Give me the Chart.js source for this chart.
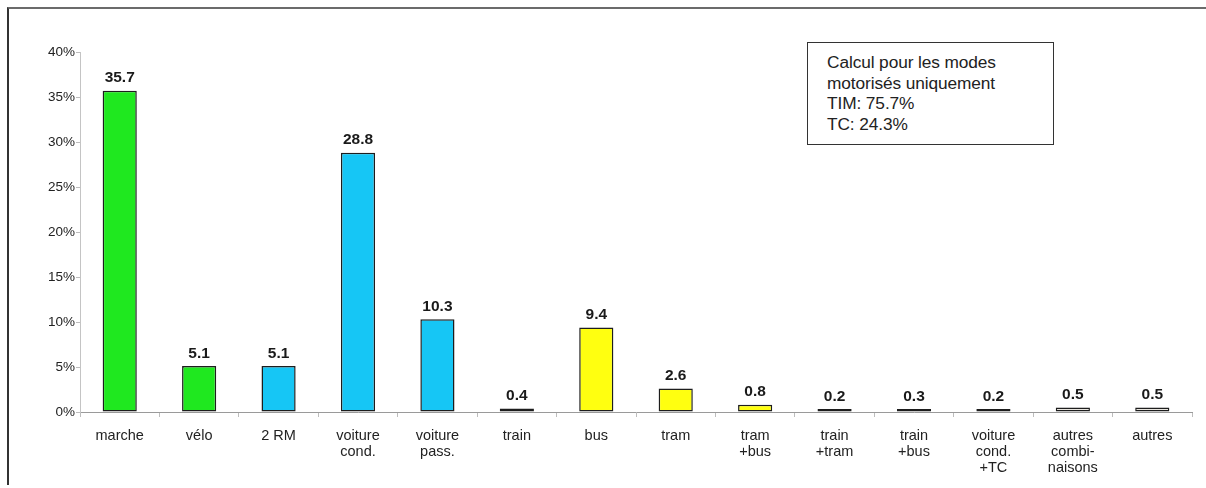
<!DOCTYPE html>
<html>
<head>
<meta charset="utf-8">
<script src="https://cdn.jsdelivr.net/npm/chart.js@4.4.1/dist/chart.umd.min.js"></script>
<style>
  html, body { margin: 0; padding: 0; background: #ffffff; }
  #wrap { position: relative; width: 1206px; height: 488px; overflow: hidden; }
  #c { position: absolute; left: 0; top: 0; }
  #frame { position: absolute; left: 7px; top: 7px; right: -10px; bottom: 3px;
           border-top: 2px solid #6b6b6b; border-left: 2px solid #333; pointer-events: none; }
  #note { position: absolute; left: 807px; top: 42px; width: 226px; height: 88px;
          border: 1.5px solid #333; padding: 9px 0 4px 19px; background: #fff;
          font-family: "Liberation Sans", Arial, sans-serif; font-size: 17.3px;
          line-height: 20.6px; color: #222; letter-spacing: -0.1px; }
</style>
</head>
<body>
<div id="wrap">
  <canvas id="c" width="1206" height="488"></canvas>
  <div id="frame"></div>
  <div id="note">Calcul pour les modes<br>motorisés uniquement<br>TIM: 75.7%<br>TC: 24.3%</div>
</div>
<script>
const categories = [
  ["marche"], ["vélo"], ["2 RM"], ["voiture", "cond."], ["voiture", "pass."],
  ["train"], ["bus"], ["tram"], ["tram", "+bus"], ["train", "+tram"],
  ["train", "+bus"], ["voiture", "cond.", "+TC"], ["autres", "combi-", "naisons"], ["autres"]
];
const shares = [35.7, 5.1, 5.1, 28.8, 10.3, 0.4, 9.4, 2.6, 0.8, 0.2, 0.3, 0.2, 0.5, 0.5];
const barColors = [
  "#1fe81f", "#1fe81f", "#16c6f5", "#16c6f5", "#16c6f5",
  "#c9c3a6", "#ffff10", "#ffff10", "#ffff10", "#4e5a2a",
  "#5a6a2e", "#333333", "#e9e6e0", "#e9e6e0"
];
const yTicks = [0, 5, 10, 15, 20, 25, 30, 35, 40];

const FONT = "'Liberation Sans', Arial, sans-serif";

const valueLabels = {
  id: "valueLabels",
  afterDatasetsDraw(chart) {
    const ctx = chart.ctx;
    const meta = chart.getDatasetMeta(0);
    ctx.save();
    ctx.font = "bold 15.5px " + FONT;
    ctx.fillStyle = "#1a1a1a";
    ctx.textAlign = "center";
    ctx.textBaseline = "bottom";
    meta.data.forEach((bar, i) => {
      ctx.fillText(shares[i].toFixed(1), bar.x, bar.y - 5);
    });
    ctx.restore();
  }
};

new Chart(document.getElementById("c"), {
  type: "bar",
  data: {
    labels: categories,
    datasets: [{
      data: shares,
      backgroundColor: barColors,
      borderColor: "#1d1d1d",
      borderWidth: 1.5,
      borderSkipped: false,
      minBarLength: 3,
      categoryPercentage: 1,
      barPercentage: 0.43
    }]
  },
  options: {
    responsive: false,
    animation: false,
    devicePixelRatio: 1,
    layout: { padding: { left: 0, right: 14, top: 52, bottom: 0 } },
    plugins: { legend: { display: false }, tooltip: { enabled: false } },
    scales: {
      x: {
        offset: true,
        grid: { display: true, drawOnChartArea: false, drawTicks: true, tickLength: 5,
                offset: true, color: "#bdbdbd" },
        border: { display: true, color: "#9a9a9a", width: 1 },
        ticks: { color: "#222", font: { family: FONT, size: 14.5, lineHeight: 1.1 }, padding: 11,
                 maxRotation: 0, autoSkip: false },
        afterFit(scale) { scale.height = 76; }
      },
      y: {
        min: 0, max: 40,
        afterBuildTicks(scale) { scale.ticks = yTicks.map(v => ({ value: v })); },
        grid: { display: true, drawOnChartArea: false, drawTicks: true, tickLength: 4,
                color: "#bdbdbd" },
        border: { display: true, color: "#c4c4c4", width: 1 },
        ticks: { color: "#222", font: { family: FONT, size: 13.5 }, padding: 1,
                 callback: v => v + "%" },
        afterFit(scale) { scale.width = 80; }
      }
    }
  },
  plugins: [valueLabels]
});
</script>
</body>
</html>
